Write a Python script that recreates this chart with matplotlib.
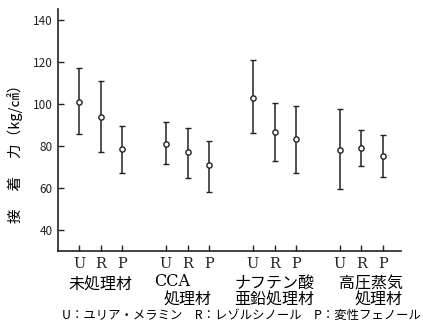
import numpy as np
import matplotlib
matplotlib.use('Agg')
import matplotlib.pyplot as plt
import matplotlib.transforms as mtransforms

plt.rcParams['font.family'] = ['Noto Sans CJK JP', 'DejaVu Sans']

# data
adhesives = ['U', 'R', 'P']
groups = ['未処理材', 'CCA\n処理材', 'ナフテン酸\n亜鉛処理材', '高圧蒸気\n処理材']
mean = [101, 93.7, 78.5, 81, 77, 70.8, 103, 86.8, 83.1, 78, 79, 75.2]
upper = [117, 111, 89.4, 91.2, 88.5, 82.2, 121, 100.3, 98.8, 97.5, 87.5, 85.2]
lower = [85.5, 77, 67, 71.3, 64.6, 58.2, 86, 72.8, 67.3, 59.4, 70.5, 65.4]
yticks = [40, 60, 80, 100, 120, 140]

# x positions: 3 bars per group, one empty slot between groups
pos = []
for g in range(len(groups)):
    for k in range(len(adhesives)):
        pos.append(g * 4 + k + 1)
pos = np.array(pos)
mean = np.array(mean)
err = [mean - np.array(lower), np.array(upper) - mean]

fig = plt.figure(figsize=(4.23, 3.27), dpi=100)
ax = fig.add_axes([0.137, 0.232, 0.81, 0.74])

ax.errorbar(pos, mean, yerr=err, fmt='o', ms=3.8, mfc='white', mec='#222222',
            mew=1.0, ecolor='#222222', elinewidth=1.1, capsize=2, capthick=1.1)

ax.set_xlim(0.03, 15.8)
ax.set_ylim(30, 145)
ax.set_yticks(yticks)
ax.set_xticks(pos)
ax.set_xticklabels(adhesives * len(groups), fontsize=10.5, family=['DejaVu Serif'])
ax.tick_params(axis='both', direction='in', length=4, width=1, colors='#222222')
ax.tick_params(axis='y', labelsize=8.5, pad=4)
ax.tick_params(axis='x', pad=4)
for s in ['top', 'right']:
    ax.spines[s].set_visible(False)
for s in ['left', 'bottom']:
    ax.spines[s].set_linewidth(1.2)
    ax.spines[s].set_color('#222222')

# y label
fig.text(15 / 423, 1 - 150 / 327, '接　 着　 力（kg/㎠）', rotation=90,
         ha='center', va='center', fontsize=10.5)

# group labels under the tick labels
trans = mtransforms.blended_transform_factory(ax.transData, fig.transFigure)
fs = 11.5
ax.text(2, 1 - 285 / 327, groups[0], transform=trans, ha='center', va='center', fontsize=fs)
ax.text(5.3, 1 - 282 / 327, 'CCA', transform=trans, ha='center', va='center', fontsize=fs,
        family=['DejaVu Serif'])
ax.text(6.0, 1 - 300 / 327, '処理材', transform=trans, ha='center', va='center', fontsize=fs)
ax.text(10.0, 1 - 292 / 327, groups[2], transform=trans, ha='center', va='center', fontsize=fs,
        linespacing=1.0)
ax.text(15.9, 1 - 292 / 327, groups[3], transform=trans, ha='right', va='center', fontsize=fs,
        linespacing=1.0, multialignment='right')

fig.text(62 / 423, 1 - 315 / 327, 'U：ユリア・メラミン　R：レゾルシノール　P：変性フェノール',
         ha='left', va='center', fontsize=8.9)

fig.savefig('out.png', dpi=100)
